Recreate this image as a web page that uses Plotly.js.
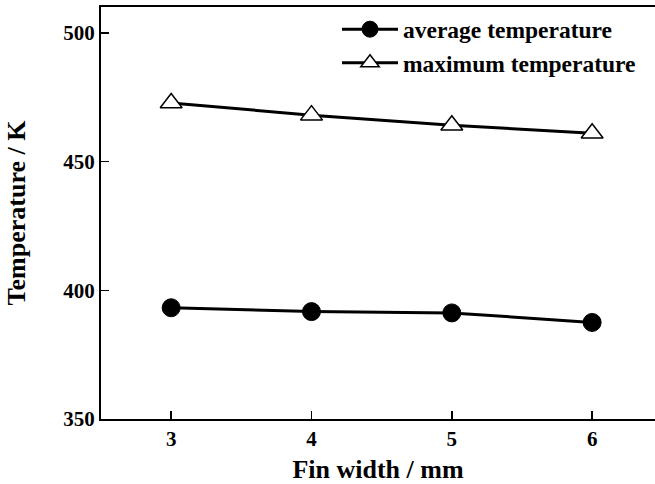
<!DOCTYPE html>
<html>
<head>
<meta charset="utf-8">
<script src="https://cdn.plot.ly/plotly-3.0.1.min.js"></script>
<style>html,body{margin:0;padding:0;background:#fff;}#chart{width:655px;height:484px;}</style>
</head>
<body>
<div id="chart"></div>
<script>
var finWidth = [3, 4, 5, 6];
var averageTemperature = [393.2, 391.7, 391.2, 387.5];
var maximumTemperature = [472.7, 468.0, 464.1, 461.0];
var xTickLabels = ['3', '4', '5', '6'];
var yTickValues = [350, 400, 450, 500];

var font = {family: 'Liberation Serif, Times New Roman, serif', color: '#000', weight: 700};
function f(size) { return Object.assign({}, font, {size: size}); }

var traces = [
  {
    x: finWidth, y: averageTemperature, name: 'average temperature',
    type: 'scatter', mode: 'lines+markers',
    line: {color: '#000', width: 3},
    marker: {symbol: 'circle', size: 18, color: '#000', line: {color: '#000', width: 1}}
  },
  {
    x: finWidth, y: maximumTemperature, name: 'maximum temperature',
    type: 'scatter', mode: 'lines+markers',
    line: {color: '#000', width: 3},
    marker: {symbol: 'triangle-up', size: 19, color: '#fff', line: {color: '#000', width: 1.5}}
  }
];

var layout = {
  width: 655, height: 484,
  margin: {l: 101, r: 0, t: 7, b: 65},
  paper_bgcolor: '#fff', plot_bgcolor: '#fff',
  showlegend: true,
  legend: {
    x: 0.426, y: 0.999, xanchor: 'left', yanchor: 'top',
    font: f(23.5), bgcolor: 'rgba(0,0,0,0)', borderwidth: 0,
    itemwidth: 56, tracegroupgap: 0
  },
  xaxis: {
    range: [2.5, 6.448], tickvals: finWidth, ticktext: xTickLabels,
    ticks: 'inside', ticklen: 8, tickwidth: 1.5, tickcolor: '#000',
    showline: true, linecolor: '#000', linewidth: 2, mirror: true,
    showgrid: false, zeroline: false,
    tickfont: f(21),
    title: {text: 'Fin width / mm', font: f(26), standoff: 13}
  },
  yaxis: {
    range: [350, 510], tickvals: yTickValues,
    ticks: 'inside', ticklen: 8, tickwidth: 1.5, tickcolor: '#000',
    showline: true, linecolor: '#000', linewidth: 2, mirror: false,
    showgrid: false, zeroline: false,
    tickfont: f(21),
    title: {text: 'Temperature / K', font: f(26), standoff: 30}
  }
};

Plotly.newPlot('chart', traces, layout, {displayModeBar: false, staticPlot: true});
</script>
</body>
</html>
